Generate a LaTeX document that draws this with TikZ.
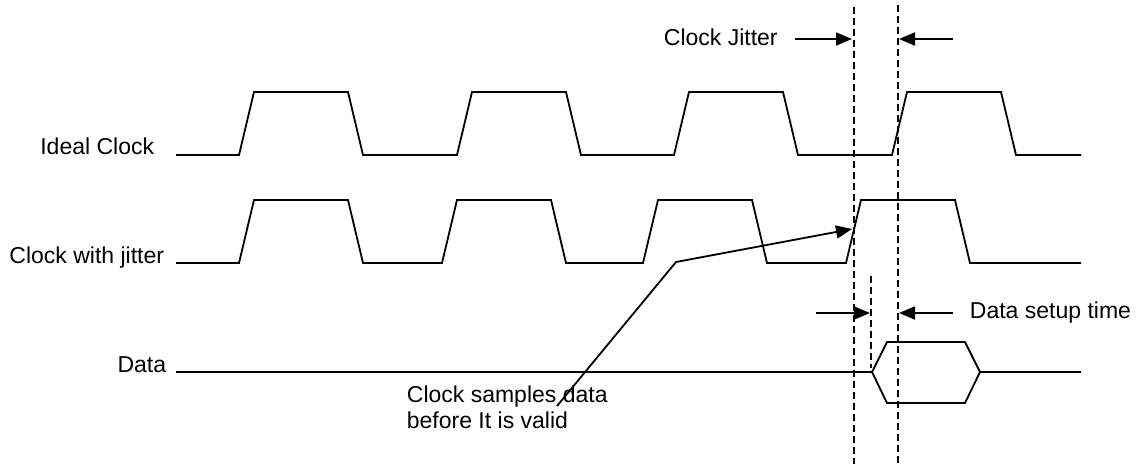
\documentclass[tikz,border=0pt]{standalone}
\usepackage{fontspec}
\setmainfont{Liberation Sans}
\usetikzlibrary{arrows.meta, positioning}

\begin{document}
\begin{tikzpicture}[x=1pt, y=-1pt, >={Triangle[length=16pt, width=13pt]}, line width=1.8pt]
    \tikzstyle{sig} = [line join=miter]
    \tikzstyle{guide} = [line width=1.6pt, dash pattern=on 7pt off 4pt]
    \tikzstyle{lbl} = [font=\fontsize{23}{26}\selectfont, inner sep=0pt, align=left]
    \useasboundingbox (0,0) rectangle (1136,464);

    % signal names
    \node [lbl, anchor=base east] at (155,154) (ideal) {Ideal Clock};
    \node [lbl, anchor=base east] at (165,263) (jitter) {Clock with jitter};
    \node [lbl, anchor=base east] at (167,372) (data) {Data};

    % waveforms
    \draw [sig] (176,155) foreach \r in {239,457,674,892} { -- (\r,155) -- ++(15,-63) -- ++(94,0) -- ++(15,63) } -- (1081,155);
    \draw [sig] (176,263) foreach \r in {239,442,643,846} { -- (\r,263) -- ++(15,-63) -- ++(94,0) -- ++(15,63) } -- (1081,263);
    \draw [sig] (176,372) -- (872,372) -- (887,342) -- (965,342) -- (980,372) -- (1081,372);
    \draw [sig] (872,372) -- (887,403) -- (965,403) -- (980,372);

    % sampling edges
    \coordinate (g1top) at (854,7);
    \coordinate (g1bot) at (854,464);
    \coordinate (g2top) at (898,5);
    \coordinate (g2bot) at (898,464);
    \coordinate (g3top) at (871,276);
    \coordinate (g3bot) at (871,368);
    \draw [guide] (g1top) -- (g1bot);
    \draw [guide] (g2top) -- (g2bot);
    \draw [guide] (g3top) -- (g3bot);

    % clock jitter
    \node [lbl, anchor=base west] at (663,45) (cj) {Clock Jitter};
    \coordinate (cjA) at (795,39);
    \coordinate (cjB) at (852,39);
    \coordinate (cjC) at (953,39);
    \coordinate (cjD) at (899,39);
    \draw [->] (cjA) -- (cjB);
    \draw [->] (cjC) -- (cjD);

    % data setup time
    \coordinate (suA) at (816,313);
    \coordinate (suB) at (870,313);
    \coordinate (suC) at (953,313);
    \coordinate (suD) at (899,313);
    \draw [->] (suA) -- (suB);
    \draw [->] (suC) -- (suD);
    \node [lbl, anchor=base west, right=16pt of suC] (setup) {Data setup time};

    % early sample
    \node [lbl, anchor=base west] at (406,428) (samp) {Clock samples data\\before It is valid};
    \coordinate (sampA) at (557,406);
    \coordinate (kink) at (676,262);
    \coordinate (sampB) at (852,229);
    \draw [->, line join=round] (sampA) -- (kink) -- (sampB);
\end{tikzpicture}
\end{document}
